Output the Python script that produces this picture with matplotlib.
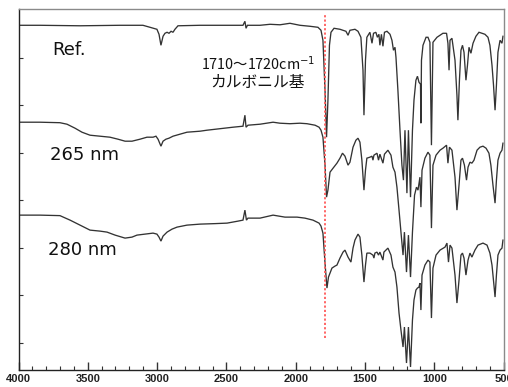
import matplotlib
matplotlib.use("Agg")
import matplotlib.pyplot as plt
from matplotlib.ticker import MultipleLocator, FixedLocator

# ---------------- data (wavenumber cm-1, intensity a.u.) ----------------
ref_wn = [4000, 3845, 3556, 3268, 3102, 3051, 3001, 2986, 2972, 2957, 2943, 2928, 2914,
          2899, 2885, 2871, 2849, 2690, 2474, 2380, 2366, 2358, 2348, 2257, 2185, 2113,
          2041, 1969, 1896, 1839, 1817, 1803, 1788, 1777, 1767, 1756, 1745, 1723, 1680,
          1637, 1622, 1608, 1572, 1550, 1529, 1514, 1507, 1496, 1486, 1464, 1449, 1438,
          1421, 1410, 1399, 1392, 1381, 1370, 1359, 1341, 1319, 1305, 1294, 1283, 1276,
          1262, 1247, 1233, 1222, 1211, 1197, 1186, 1171, 1157, 1146, 1132, 1121, 1110,
          1099, 1096, 1092, 1081, 1059, 1045, 1031, 1020, 1009, 980, 937, 911, 901, 893,
          886, 872, 850, 836, 829, 818, 807, 796, 785, 771, 760, 749, 735, 720, 699, 677,
          655, 634, 612, 598, 583, 572, 561, 551, 540, 525, 511, 504]
ref_val = [345, 345, 344.5, 345, 345, 343, 341, 336, 325, 334, 337, 338, 337,
           339, 338, 341, 344.5, 345, 345, 345, 349, 342, 345, 345, 346, 345.5,
           347, 345, 344, 343, 340, 330, 280, 233, 270, 325, 338, 342, 341,
           339, 335, 340, 341, 339, 333, 300, 255, 310, 333, 338, 327, 337,
           338, 333, 336, 325, 336, 324, 338, 339, 336, 330, 320, 323, 313,
           280, 240, 205, 190, 240, 177, 240, 173, 240, 270, 290, 294, 288,
           286, 247, 310, 325, 333, 333, 328, 225, 328, 333, 337, 337, 327, 300,
           330, 332, 310, 275, 250, 290, 320, 325, 318, 290, 305, 323, 317, 327, 334, 338,
           337, 336, 333, 325, 305, 285, 260, 285, 318, 330, 327, 334]

nm265_wn = [4000, 3845, 3701, 3650, 3592, 3542, 3484, 3412, 3340, 3282, 3231, 3181, 3123,
            3073, 3029, 3008, 2993, 2972, 2957, 2936, 2914, 2885, 2835, 2784, 2690, 2640,
            2546, 2452, 2380, 2366, 2358, 2344, 2257, 2163, 2113, 2041, 1969, 1918, 1860,
            1831, 1817, 1803, 1788, 1777, 1767, 1752, 1730, 1702, 1680, 1662, 1644, 1622,
            1608, 1586, 1565, 1550, 1536, 1522, 1507, 1496, 1486, 1464, 1449, 1442, 1435,
            1413, 1402, 1392, 1370, 1359, 1334, 1312, 1298, 1283, 1269, 1254, 1240, 1225,
            1215, 1200, 1186, 1171, 1157, 1142, 1128, 1117, 1103, 1096, 1088, 1067, 1045,
            1031, 1020, 1009, 987, 958, 937, 911, 901, 890, 872, 850, 836, 821, 807, 796,
            782, 767, 756, 742, 728, 713, 691, 670, 648, 626, 605, 591, 576, 561, 551, 540,
            525, 511, 504]
nm265_val = [248, 248, 247.5, 246, 242, 238, 235, 234, 233, 231, 229, 229, 231,
             233, 233, 234, 231, 224, 229, 231, 232, 234, 236, 238, 239, 240,
             241.5, 243, 244, 255, 243, 245, 246, 248, 247, 246.5, 247, 246.5, 245,
             243, 240, 233, 205, 173, 180, 198, 202, 207, 212, 217, 214, 205,
             208, 223, 230, 232, 228, 210, 180, 200, 212, 213, 214, 210, 215,
             217, 210, 216, 207, 216, 220, 215, 203, 198, 183, 160, 138, 115,
             138, 98, 135, 93, 138, 175, 183, 180, 193, 163, 200, 212, 218,
             215, 142, 205, 215, 220, 222, 225, 207, 223, 220, 193, 160, 185, 210, 212,
             205, 190, 203, 208, 207, 210, 220, 223, 224, 222, 217, 205, 185, 167, 190, 210,
             217, 220, 227]

nm280_wn = [4000, 3845, 3701, 3628, 3556, 3484, 3412, 3361, 3303, 3231, 3181, 3145, 3087,
            3029, 3001, 2986, 2972, 2957, 2928, 2892, 2856, 2784, 2690, 2582, 2495, 2416,
            2380, 2366, 2355, 2344, 2257, 2163, 2077, 1990, 1933, 1875, 1831, 1817, 1803,
            1788, 1774, 1763, 1738, 1716, 1702, 1680, 1658, 1644, 1622, 1601, 1586, 1572,
            1550, 1536, 1522, 1507, 1496, 1486, 1464, 1442, 1435, 1428, 1413, 1402, 1392,
            1370, 1363, 1334, 1312, 1298, 1283, 1269, 1254, 1240, 1225, 1215, 1200, 1186,
            1171, 1157, 1146, 1132, 1121, 1110, 1103, 1096, 1088, 1067, 1045, 1031, 1020,
            1009, 987, 958, 922, 908, 897, 886, 872, 850, 836, 821, 807, 796, 785, 771, 756,
            742, 728, 706, 684, 648, 619, 598, 583, 569, 561, 551, 540, 525, 511, 504]
nm280_val = [155, 155, 154.5, 150, 145, 140, 139, 138, 135, 132, 133, 135, 136,
             137, 136, 133, 129, 134, 138, 141, 143, 145, 146, 146.5, 147, 149,
             150, 160, 150, 152, 152, 155, 153, 153, 152, 150, 147, 144, 137,
             107, 82, 93, 102, 104, 105, 112, 118, 120, 113, 108, 122, 130,
             136, 133, 115, 88, 105, 117, 117, 115, 112, 117, 118, 115, 118,
             110, 118, 122, 115, 103, 98, 83, 57, 40, 23, 43, 7, 43,
             3, 50, 70, 80, 82, 83, 87, 60, 95, 105, 110, 108, 52,
             102, 115, 120, 123, 127, 108, 125, 122, 95, 67, 90, 115, 117, 112, 95, 110,
             117, 113, 120, 125, 127, 125, 117, 105, 85, 73, 95, 115, 120, 122, 130]

series_labels = ["Ref.", "265 nm", "280 nm"]
carbonyl_wn = 1788
annot_line1 = "1710〜1720cm$^{-1}$"
annot_line2 = "カルボニル基"
x_major = [4000, 3500, 3000, 2500, 2000, 1500, 1000, 500]

# ---------------- figure ----------------
W, H = 508, 387
fig = plt.figure(figsize=(W / 100, H / 100), dpi=100)
ax = fig.add_axes([18.5 / W, (H - 370) / H, (503.5 - 18.5) / W, (370 - 9.3) / H])

line_color = "#333333"
for wn, val in [(ref_wn, ref_val), (nm265_wn, nm265_val), (nm280_wn, nm280_val)]:
    ax.plot(wn, val, color=line_color, lw=0.95, solid_joinstyle="miter")

ax.plot([carbonyl_wn, carbonyl_wn], [32, 355], color="#ff5a5a", lw=1.3,
        linestyle=(0, (1.2, 1.2)))

ax.set_xlim(4000, 500)
ax.set_ylim(0, 361)

ax.xaxis.set_major_locator(FixedLocator(x_major))
ax.xaxis.set_minor_locator(MultipleLocator(100))
ax.set_xticklabels([str(v) for v in x_major])
ax.yaxis.set_major_locator(FixedLocator([27, 75, 122, 170, 217, 265, 312]))
ax.set_yticklabels([])

ax.tick_params(axis="x", which="major", direction="in", length=6, width=1,
               color="#333333", pad=3, labelsize=8)
ax.tick_params(axis="x", which="minor", direction="in", length=3, width=0.8,
               color="#333333")
ax.tick_params(axis="y", which="major", direction="in", length=3, width=0.8,
               color="#333333")
for lab in ax.get_xticklabels():
    lab.set_fontweight("bold")
    lab.set_family("Liberation Sans")
    lab.set_color("#222222")

ax.spines["left"].set_color("#222222")
ax.spines["bottom"].set_color("#222222")
ax.spines["top"].set_color("#8a8a8a")
ax.spines["right"].set_color("#8a8a8a")
for s in ax.spines.values():
    s.set_linewidth(1.0)

ax.text(3758, 320, series_labels[0], fontsize=13, va="center", ha="left",
        family="DejaVu Sans", color="#111111")
ax.text(3773, 215, series_labels[1], fontsize=13, va="center", ha="left",
        family="DejaVu Sans", color="#111111")
ax.text(3787, 120, series_labels[2], fontsize=13, va="center", ha="left",
        family="DejaVu Sans", color="#111111")

ax.text(2272, 307, annot_line1, fontsize=10.3, va="center", ha="center",
        family=["Noto Sans CJK JP", "DejaVu Sans"], color="#111111")
ax.text(2272, 288, annot_line2, fontsize=11.3, va="center", ha="center",
        family=["Noto Sans CJK JP", "DejaVu Sans"], color="#111111")

fig.savefig("out.png", dpi=100)
